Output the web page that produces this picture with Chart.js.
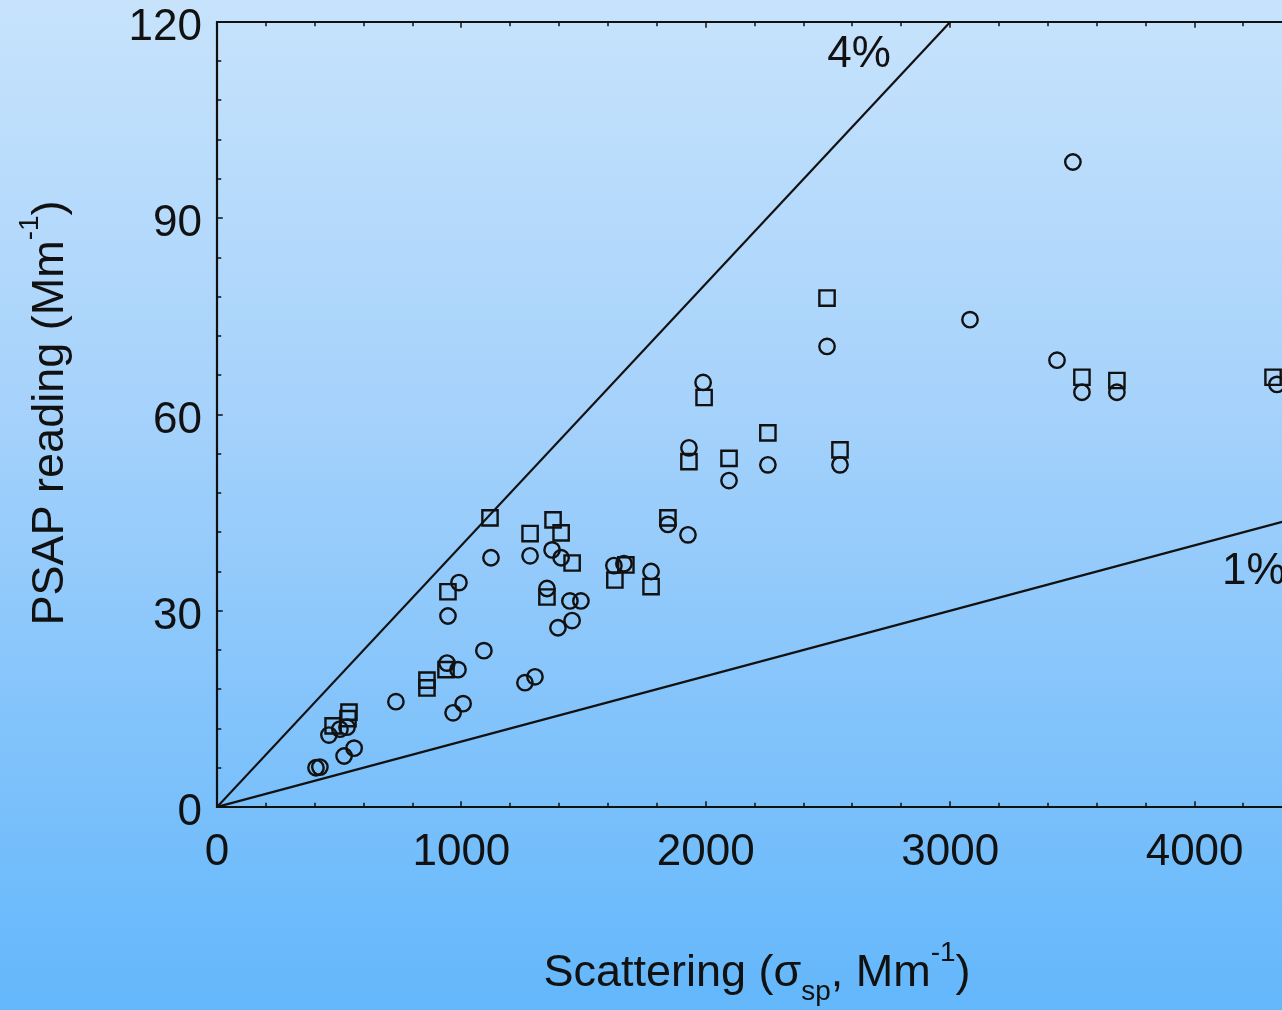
<!DOCTYPE html>
<html>
<head>
<meta charset="utf-8">
<script src="https://cdn.jsdelivr.net/npm/chart.js@4.4.1/dist/chart.umd.min.js"></script>
<style>
  html, body { margin: 0; padding: 0; width: 1282px; height: 1010px; overflow: hidden; }
  body { background: linear-gradient(to bottom, #c7e3fc 0%, #a6d2fb 40%, #84c4fb 70%, #63b7fb 100%); }
  #wrap { position: absolute; left: 0; top: 0; width: 1330px; height: 1010px; }
</style>
</head>
<body>
<div id="wrap"><canvas id="c" width="1330" height="1010"></canvas></div>
<script>
// Absorption reading vs. scattering, two sample groups
const circleX = [405, 421, 520, 561, 458, 503, 532, 732, 941, 986, 966, 1007, 1092, 1260, 1301,
  945, 990, 1121, 1281, 1371, 1408, 1350, 1444, 1489, 1395, 1453, 1624, 1665, 1776, 1845, 1927,
  1989, 1931, 2095, 2254, 2549, 2496, 3502, 3081, 3437, 3539, 3682, 4337];
const circleY = [6.0, 6.1, 7.8, 9.0, 11.0, 11.9, 12.2, 16.1, 22.0, 21.0, 14.4, 15.8, 23.9, 19.0, 19.9,
  29.2, 34.3, 38.1, 38.4, 39.3, 38.1, 33.4, 31.5, 31.5, 27.4, 28.5, 36.9, 37.2, 36.0, 43.2, 41.6,
  64.9, 54.9, 49.9, 52.3, 52.3, 70.4, 98.6, 74.5, 68.3, 63.4, 63.4, 64.6];

const squareX = [475, 536, 540, 859, 859, 937, 945, 1117, 1281, 1375, 1408, 1453, 1350, 1628, 1673,
  1776, 1845, 1993, 1931, 2095, 2254, 2549, 2496, 3539, 3682, 4321];
const squareY = [12.4, 13.5, 14.5, 19.4, 18.2, 21.0, 32.9, 44.2, 41.8, 43.9, 41.9, 37.3, 32.1, 34.7, 37.0,
  33.7, 44.2, 62.6, 52.8, 53.3, 57.2, 54.6, 77.8, 65.7, 65.2, 65.7];

// Reference ratios (absorption / scattering)
const refSlopes = [0.04, 0.01];
const refLabels = ['4%', '1%'];

// Axis ranges and labelled ticks
const xMin = 0, xMax = 4500, xMinor = 200;
const yMin = 0, yMax = 120, yMinor = 6;
const xTicks = [0, 1000, 2000, 3000, 4000];
const yTicks = [0, 30, 60, 90, 120];

const INK = '#111111';
const FONT = '"Liberation Sans", Arial, Helvetica, sans-serif';

const toPoints = (xs, ys) => xs.map((v, i) => ({ x: v, y: ys[i] }));

// each reference line runs from the origin until it leaves the plot box
const refLine = s => {
  const xEnd = Math.min(xMax, yMax / s);
  return [{ x: 0, y: 0 }, { x: xEnd, y: s * xEnd }];
};

// text anchors for the ratio labels, in data units
const refLabelAnchors = [
  { x: 2627, y: 115.0, align: 'center' },
  { x: 4112, y: 36.0, align: 'left' }
];

function drawRich(ctx, parts, size) {
  // measure, then draw left to right centred on the current origin
  let total = 0;
  const widths = parts.map(p => {
    ctx.font = `${p.sub || p.sup ? size * 0.62 : size}px ${FONT}`;
    const w = ctx.measureText(p.t).width;
    total += w;
    return w;
  });
  let cx = -total / 2;
  parts.forEach((p, i) => {
    ctx.font = `${p.sub || p.sup ? size * 0.62 : size}px ${FONT}`;
    const dy = p.sub ? size * 0.32 : p.sup ? -size * 0.55 : 0;
    ctx.fillText(p.t, cx, dy);
    cx += widths[i];
  });
}

const isMajor = (v, list) => list.some(t => Math.abs(t - v) < 1e-6);

const framePlugin = {
  id: 'frame',
  afterDraw(chart) {
    const { ctx, chartArea: a, scales: { x, y } } = chart;
    ctx.save();
    ctx.strokeStyle = INK;
    ctx.lineCap = 'square';

    // plot frame: left, bottom, top
    ctx.lineWidth = 2.2;
    ctx.beginPath();
    ctx.moveTo(a.right + 20, a.top);
    ctx.lineTo(a.left, a.top);
    ctx.lineTo(a.left, a.bottom);
    ctx.lineTo(a.right + 20, a.bottom);
    ctx.stroke();

    // inward tick marks
    ctx.lineWidth = 1.5;
    ctx.beginPath();
    for (let v = xMin; v <= xMax + 1e-6; v += xMinor) {
      const px = Math.round(x.getPixelForValue(v));
      const len = isMajor(v, xTicks) ? 5 : 3.5;
      ctx.moveTo(px, a.bottom); ctx.lineTo(px, a.bottom - len);
      ctx.moveTo(px, a.top); ctx.lineTo(px, a.top + len);
    }
    for (let v = yMin; v <= yMax + 1e-6; v += yMinor) {
      const py = Math.round(y.getPixelForValue(v));
      const len = isMajor(v, yTicks) ? 5 : 3.5;
      ctx.moveTo(a.left, py); ctx.lineTo(a.left + len, py);
    }
    ctx.stroke();

    // ratio labels
    ctx.fillStyle = INK;
    ctx.font = `44px ${FONT}`;
    ctx.textBaseline = 'middle';
    refLabelAnchors.forEach((p, i) => {
      ctx.textAlign = p.align;
      ctx.fillText(refLabels[i], x.getPixelForValue(p.x), y.getPixelForValue(p.y));
    });

    // axis titles with sub/superscripts
    ctx.textAlign = 'left';
    ctx.textBaseline = 'alphabetic';
    ctx.save();
    ctx.translate(757, 986);
    drawRich(ctx, [
      { t: 'Scattering (σ' }, { t: 'sp', sub: true }, { t: ', Mm' }, { t: '-1', sup: true }, { t: ')' }
    ], 45);
    ctx.restore();

    ctx.save();
    ctx.translate(63, 413);
    ctx.rotate(-Math.PI / 2);
    drawRich(ctx, [
      { t: 'PSAP reading (Mm' }, { t: '-1', sup: true }, { t: ')' }
    ], 45);
    ctx.restore();

    ctx.restore();
  }
};

new Chart(document.getElementById('c'), {
  type: 'scatter',
  data: {
    datasets: [
      {
        label: 'circles',
        data: toPoints(circleX, circleY),
        pointStyle: 'circle',
        pointRadius: 7.7,
        borderWidth: 2.4,
        pointBorderWidth: 2.4,
        borderColor: INK,
        pointBorderColor: INK,
        backgroundColor: 'rgba(0,0,0,0)',
        pointBackgroundColor: 'rgba(0,0,0,0)',
        order: 2
      },
      {
        label: 'squares',
        data: toPoints(squareX, squareY),
        pointStyle: 'rect',
        pointRadius: 10.8,
        borderWidth: 2.4,
        pointBorderWidth: 2.4,
        borderColor: INK,
        pointBorderColor: INK,
        backgroundColor: 'rgba(0,0,0,0)',
        pointBackgroundColor: 'rgba(0,0,0,0)',
        order: 1
      },
      ...refSlopes.map((s, i) => ({
        label: refLabels[i],
        type: 'line',
        data: refLine(s),
        borderColor: INK,
        borderWidth: 2.2,
        pointRadius: 0,
        fill: false,
        tension: 0,
        order: 0
      }))
    ]
  },
  options: {
    responsive: false,
    animation: false,
    events: [],
    layout: { padding: { left: 0, top: 22, right: 13, bottom: 0 } },
    plugins: { legend: { display: false }, tooltip: { enabled: false } },
    scales: {
      x: {
        type: 'linear',
        min: xMin, max: xMax,
        grid: { display: false, drawTicks: false },
        border: { display: false },
        afterBuildTicks: s => { s.ticks = xTicks.map(v => ({ value: v })); },
        afterFit: s => { s.height = 203; s.paddingLeft = 0; s.paddingRight = 0; },
        ticks: {
          maxRotation: 0,
          autoSkip: false,
          padding: 19,
          color: INK,
          font: { family: FONT, size: 44 },
          callback: v => String(v)
        }
      },
      y: {
        type: 'linear',
        min: yMin, max: yMax,
        grid: { display: false, drawTicks: false },
        border: { display: false },
        afterBuildTicks: s => { s.ticks = yTicks.map(v => ({ value: v })); },
        afterFit: s => { s.width = 217; s.paddingTop = 0; s.paddingBottom = 0; },
        ticks: {
          autoSkip: false,
          padding: 15,
          labelOffset: 6,
          color: INK,
          font: { family: FONT, size: 44 },
          callback: v => String(v)
        }
      }
    }
  },
  plugins: [framePlugin]
});
</script>
</body>
</html>
